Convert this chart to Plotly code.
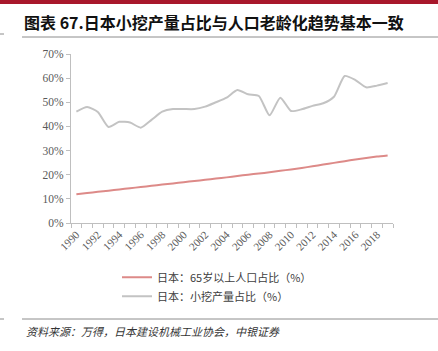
import plotly.graph_objects as go

years = list(range(1990, 2020))
aging_65plus = [11.9, 12.4, 12.9, 13.4, 13.9, 14.4, 14.9, 15.4, 15.9, 16.4,
                16.9, 17.4, 17.9, 18.4, 18.9, 19.5, 20.0, 20.5, 21.0, 21.6,
                22.2, 22.8, 23.5, 24.2, 24.9, 25.6, 26.3, 26.9, 27.5, 28.0]
mini_excavator_share = [46.1, 48.0, 46.0, 39.8, 41.9, 41.6, 39.5, 42.7, 46.1, 47.2,
                        47.2, 47.2, 48.2, 50.0, 51.9, 55.1, 53.3, 52.6, 44.6, 51.9,
                        46.4, 47.1, 48.5, 49.6, 52.3, 60.9, 59.2, 56.2, 56.9, 58.0]
x_tick_years = list(range(1990, 2019, 2))
y_ticks = [0, 10, 20, 30, 40, 50, 60, 70]
y_tick_labels = [f"{v}%" for v in y_ticks]

names = ["日本：65岁以上人口占比（%）", "日本：小挖产量占比（%）"]
colors = ["#DD8A88", "#C3C3C3"]

fig = go.Figure()
fig.add_trace(go.Scatter(x=years, y=aging_65plus, mode="lines", name=names[0],
                         line=dict(color=colors[0], width=2, shape="spline", smoothing=0.6)))
fig.add_trace(go.Scatter(x=years, y=mini_excavator_share, mode="lines", name=names[1],
                         line=dict(color=colors[1], width=2, shape="spline", smoothing=0.6)))

axis_color = "#BFBFBF"
tick_font = dict(family="Liberation Serif, DejaVu Serif, serif", size=11.5, color="#595959")

fig.update_layout(
    width=438, height=351,
    margin=dict(l=71, r=45, t=54, b=128),
    paper_bgcolor="white", plot_bgcolor="white",
    showlegend=True,
    legend=dict(x=(117 - 71) / 322, xanchor="left", y=-0.235, yanchor="top",
                orientation="v", itemwidth=30, tracegroupgap=0,
                font=dict(family="Noto Sans CJK SC", size=11, color="#404040"),
                bgcolor="rgba(0,0,0,0)"),
    xaxis=dict(range=[1989.5, 2019.5], tickmode="array", tickvals=x_tick_years,
               ticktext=[str(y) for y in x_tick_years], tickangle=-45,
               ticks="", showgrid=False, zeroline=False,
               showline=True, linecolor=axis_color, linewidth=1,
               tickfont=dict(family="Liberation Serif, DejaVu Serif, serif", size=11, color="#595959"),
               minor=dict(tick0=1989.5, dtick=1, ticks="outside", ticklen=4,
                          tickcolor=axis_color, showgrid=False)),
    yaxis=dict(range=[0, 70], tickmode="array", tickvals=y_ticks, ticktext=y_tick_labels,
               ticks="outside", ticklen=4, tickcolor=axis_color,
               showgrid=False, zeroline=False,
               showline=True, linecolor=axis_color, linewidth=1,
               tickfont=tick_font),
)

# Header band, title, rules
fig.add_shape(type="rect", xref="paper", yref="paper", x0=-71/322, x1=(438-71)/322,
              y0=1 + 50/169, y1=1 + 54/169, fillcolor="#A8172B", line_width=0, layer="above")
fig.add_annotation(text="<b>图表 67.日本小挖产量占比与人口老龄化趋势基本一致</b>",
                   xref="paper", yref="paper", x=(22 - 71) / 322, y=1 + (54 - 22) / 169,
                   xanchor="left", yanchor="middle", showarrow=False,
                   font=dict(family="Noto Sans CJK SC", size=16, color="#111111"))
fig.add_shape(type="line", xref="paper", yref="paper", x0=(22-71)/322, x1=(438-71)/322,
              y0=1 + (54-37)/169, y1=1 + (54-37)/169, line=dict(color="#8C8C8C", width=1))
fig.add_shape(type="line", xref="paper", yref="paper", x0=-71/322, x1=(4-71)/322,
              y0=1 + (54-34)/169, y1=1 + (54-34)/169, line=dict(color="#8C8C8C", width=1))
fig.add_shape(type="line", xref="paper", yref="paper", x0=(22-71)/322, x1=(438-71)/322,
              y0=-(319-223)/169, y1=-(319-223)/169, line=dict(color="#8C8C8C", width=1))
fig.add_shape(type="line", xref="paper", yref="paper", x0=-71/322, x1=(4-71)/322,
              y0=-(319-223)/169, y1=-(319-223)/169, line=dict(color="#8C8C8C", width=1))
fig.add_annotation(text="资料来源：万得，日本建设机械工业协会，中银证券",
                   xref="paper", yref="paper", x=(24 - 71) / 322, y=-(331 - 223) / 169,
                   xanchor="left", yanchor="middle", showarrow=False,
                   font=dict(family="Noto Sans CJK SC", size=11, color="#333333", style="italic"))

fig.write_html("out.html")
